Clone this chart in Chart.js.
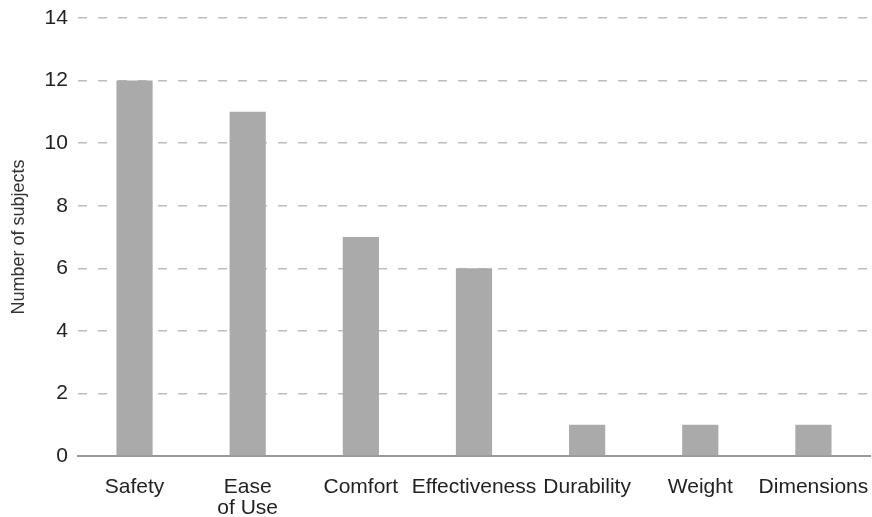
<!DOCTYPE html>
<html>
<head>
<meta charset="utf-8">
<script src="https://cdn.jsdelivr.net/npm/chart.js@4"></script>
<style>
html,body{margin:0;padding:0;background:#fff;}
#wrap{width:872px;height:517px;}
</style>
</head>
<body>
<div id="wrap"><canvas id="mycanvas"></canvas></div>
<script>
var categories=['Safety',['Ease','of Use'],'Comfort','Effectiveness','Durability','Weight','Dimensions'];
var subjects=[12,11,7,6,1,1,1];
var yTicks=[0,2,4,6,8,10,12,14];

var chartdata={
	labels:categories,
	datasets:[
	{
		label:'Number of subjects',
		backgroundColor:'#aaaaaa',
		borderWidth:0,
		barPercentage:0.32,
		categoryPercentage:1,
		data:subjects
	}
	]
};
var ctx=document.getElementById('mycanvas');
var barGraph=new Chart(ctx,{
	type:'bar',
	data:chartdata,
	options:{
		responsive:true,
		maintainAspectRatio:false,
		animation:false,
		layout:{padding:{top:18,right:2,left:8,bottom:3}},
		plugins:{legend:{display:false},tooltip:{enabled:false}},
		scales:{
			x:{
				afterFit:function(s){s.paddingLeft=0;s.paddingRight=0;s.height=58;},
				grid:{display:false},
				border:{display:true,color:'#999999',width:2},
				ticks:{color:'#222',font:{family:'Liberation Sans, Arial',size:21,lineHeight:1},padding:13,maxRotation:0,autoSkip:false}
			},
			y:{
				min:0,max:14,
				afterBuildTicks:function(s){s.ticks=yTicks.map(function(v){return {value:v};});},
				afterFit:function(s){s.paddingTop=0;s.paddingBottom=0;},
				border:{display:false,dash:[9,11]},
				grid:{
					drawTicks:false,
					lineWidth:1.5,
					color:function(c){return c.tick && c.tick.value===0?'rgba(0,0,0,0)':'#bdbdbd';}
				},
				ticks:{color:'#222',font:{family:'Liberation Sans, Arial',size:21},padding:10},
				title:{display:true,text:'Number of subjects',color:'#333',font:{family:'Liberation Sans, Arial',size:18},padding:{top:0,bottom:5}}
			}
		}
	}
});
</script>
</body>
</html>
